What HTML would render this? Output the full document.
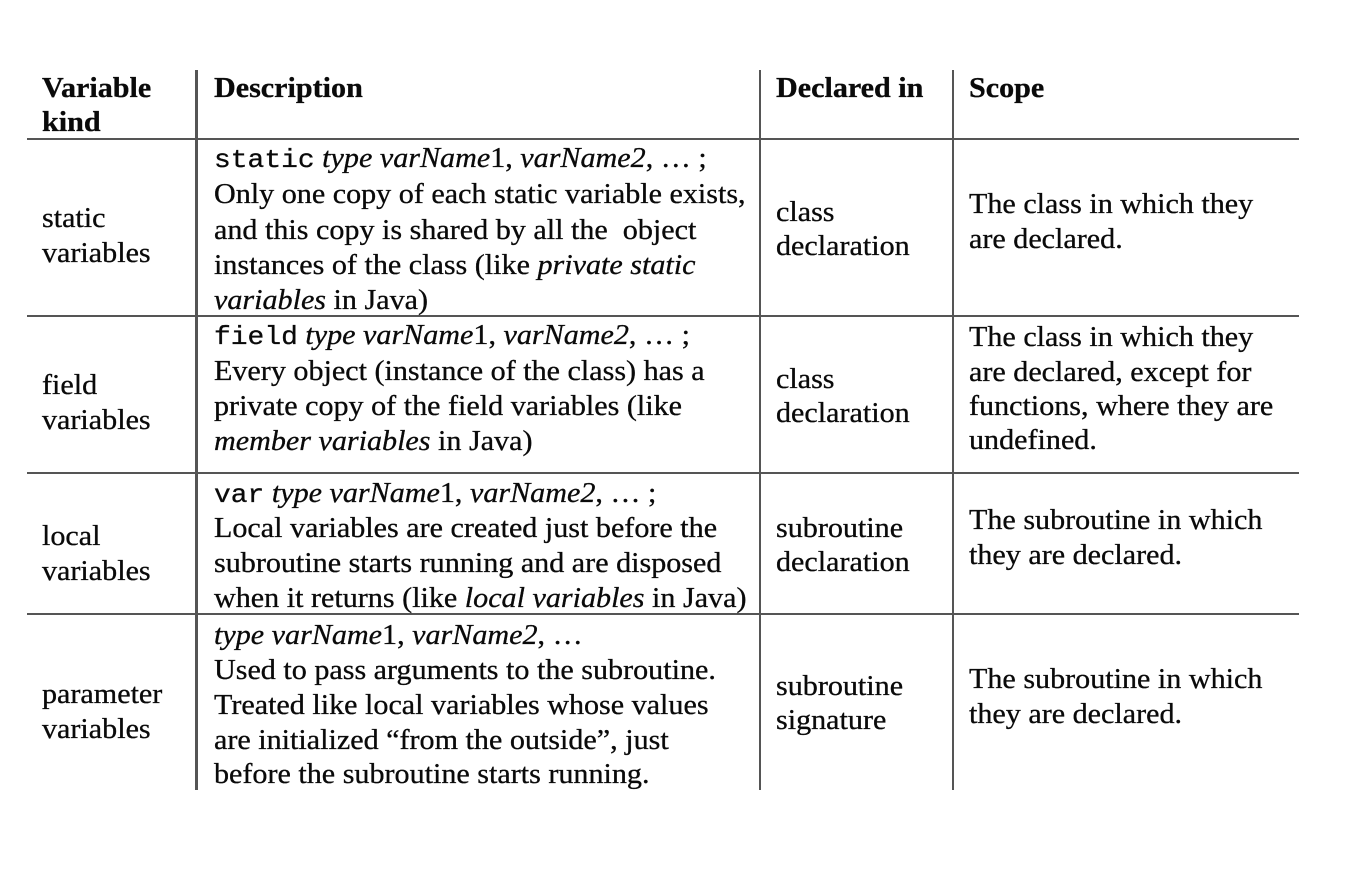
<!DOCTYPE html>
<html><head><meta charset="utf-8"><style>
body{margin:0;width:1358px;height:876px;background:#fff;position:relative;overflow:hidden;font-family:"Liberation Serif",serif;color:#0a0a0a}
.l{position:absolute;white-space:nowrap;height:36px;line-height:36px;font-size:28px;transform:scaleX(1.075);transform-origin:0 50%;-webkit-text-stroke:0.3px #0a0a0a}
.b{font-weight:bold}
.c{font-family:"Liberation Mono",monospace;font-size:26px}
.h{position:absolute;height:2px;background:#555;left:27px;width:1272px}
.v{position:absolute;top:70px;height:720px;background:#555}
</style></head><body>
<div class="h" style="top:138px"></div>
<div class="h" style="top:315px"></div>
<div class="h" style="top:472px"></div>
<div class="h" style="top:613px"></div>
<div class="v" style="left:195px;width:3px"></div>
<div class="v" style="left:759px;width:2px"></div>
<div class="v" style="left:952px;width:2px"></div>

<div class="l b" style="left:42px;top:71px">Variable</div>
<div class="l b" style="left:42px;top:105px">kind</div>
<div class="l b" style="left:214px;top:71px">Description</div>
<div class="l b" style="left:776px;top:71px">Declared in</div>
<div class="l b" style="left:969px;top:71px">Scope</div>

<div>
<div class="l" style="left:42px;top:201px">static</div>
<div class="l" style="left:42px;top:236px">variables</div>
<div class="l" style="left:214px;top:141px"><span class="c">static</span> <i>type varName</i>1, <i>varName2</i>, … ;</div>
<div class="l" style="left:214px;top:177px">Only one copy of each static variable exists,</div>
<div class="l" style="left:214px;top:213px">and this copy is shared by all the&nbsp; object</div>
<div class="l" style="left:214px;top:248px">instances of the class (like <i>private static</i></div>
<div class="l" style="left:214px;top:283px"><i>variables</i> in Java)</div>
<div class="l" style="left:776px;top:195px">class</div>
<div class="l" style="left:776px;top:229px">declaration</div>
<div class="l" style="left:969px;top:187px">The class in which they</div>
<div class="l" style="left:969px;top:222px">are declared.</div>
</div>

<div>
<div class="l" style="left:42px;top:368px">field</div>
<div class="l" style="left:42px;top:403px">variables</div>
<div class="l" style="left:214px;top:318px"><span class="c">field</span> <i>type varName</i>1, <i>varName2</i>, … ;</div>
<div class="l" style="left:214px;top:354px">Every object (instance of the class) has a</div>
<div class="l" style="left:214px;top:389px">private copy of the field variables (like</div>
<div class="l" style="left:214px;top:424px"><i>member variables</i> in Java)</div>
<div class="l" style="left:776px;top:362px">class</div>
<div class="l" style="left:776px;top:396px">declaration</div>
<div class="l" style="left:969px;top:320px">The class in which they</div>
<div class="l" style="left:969px;top:355px">are declared, except for</div>
<div class="l" style="left:969px;top:389px">functions, where they are</div>
<div class="l" style="left:969px;top:423px">undefined.</div>
</div>

<div>
<div class="l" style="left:42px;top:519px">local</div>
<div class="l" style="left:42px;top:554px">variables</div>
<div class="l" style="left:214px;top:476px"><span class="c">var</span> <i>type varName</i>1, <i>varName2</i>, … ;</div>
<div class="l" style="left:214px;top:511px">Local variables are created just before the</div>
<div class="l" style="left:214px;top:546px">subroutine starts running and are disposed</div>
<div class="l" style="left:214px;top:581px">when it returns (like <i>local variables</i> in Java)</div>
<div class="l" style="left:776px;top:511px">subroutine</div>
<div class="l" style="left:776px;top:545px">declaration</div>
<div class="l" style="left:969px;top:503px">The subroutine in which</div>
<div class="l" style="left:969px;top:538px">they are declared.</div>
</div>

<div>
<div class="l" style="left:42px;top:677px">parameter</div>
<div class="l" style="left:42px;top:712px">variables</div>
<div class="l" style="left:214px;top:618px"><i>type varName</i>1, <i>varName2</i>, …</div>
<div class="l" style="left:214px;top:653px">Used to pass arguments to the subroutine.</div>
<div class="l" style="left:214px;top:688px">Treated like local variables whose values</div>
<div class="l" style="left:214px;top:723px">are initialized “from the outside”, just</div>
<div class="l" style="left:214px;top:757px">before the subroutine starts running.</div>
<div class="l" style="left:776px;top:669px">subroutine</div>
<div class="l" style="left:776px;top:703px">signature</div>
<div class="l" style="left:969px;top:662px">The subroutine in which</div>
<div class="l" style="left:969px;top:697px">they are declared.</div>
</div>
</body></html>
